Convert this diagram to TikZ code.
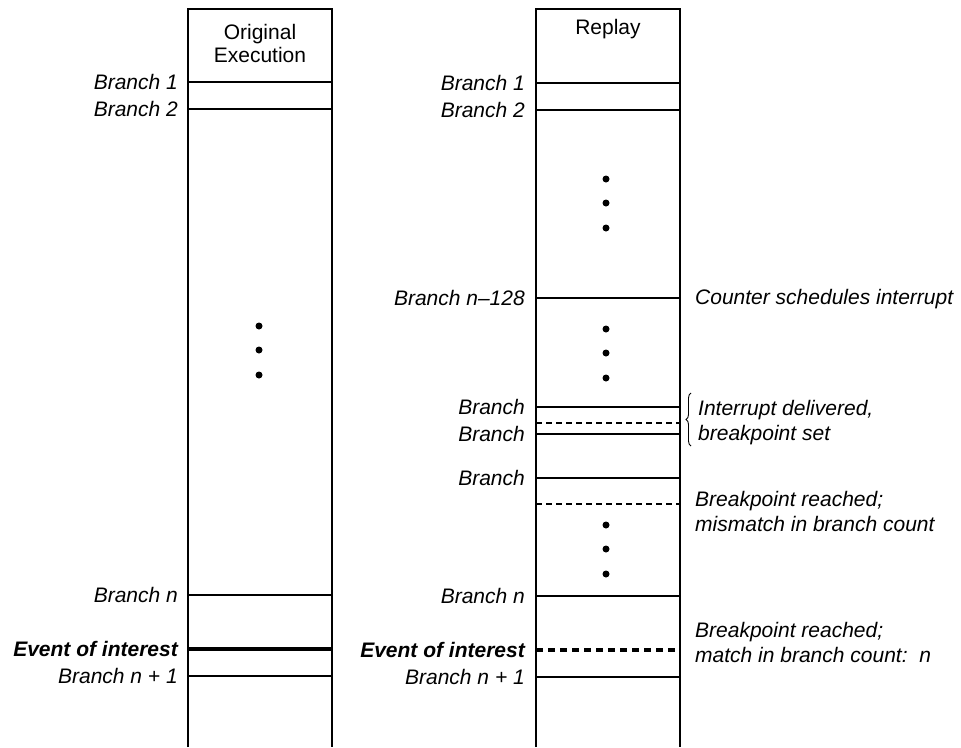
\documentclass[tikz,border=0pt]{standalone}
\usepackage{fontspec}
\setmainfont{Liberation Sans}
\usepackage{tikz}
\usetikzlibrary{decorations.pathreplacing}

\begin{document}
\begin{tikzpicture}[x=1pt,y=-1pt,
  every node/.style={font=\fontsize{21}{23}\selectfont},
  brlabel/.style={anchor=east,inner sep=0pt,text height=15pt,text depth=0pt,
    font=\fontsize{21}{23}\selectfont\itshape},
  note/.style={anchor=west,inner sep=0pt,align=left,
    font=\fontsize{21}{25}\selectfont\itshape},
  bar/.style={line width=1.6pt},
  thinmark/.style={line width=1.2pt,dash pattern=on 6pt off 4pt},
  boldmark/.style={line width=3.5pt,dash pattern=on 7pt off 5pt}]
\useasboundingbox (0,0) rectangle (961,747);
% columns
\draw[bar] (188,747) -- (188,9) -- (332,9) -- (332,747);
\draw[bar] (536,747) -- (536,9) -- (680,9) -- (680,747);
\node[align=center] (orighead) at (260,43) {Original\\Execution};
\node (replayhead) at (608,29) {Replay};
% original execution
\draw[bar] (188,82) -- (332,82);
\draw[bar] (188,109) -- (332,109);
\draw[bar] (188,595) -- (332,595);
\draw[line width=3.5pt] (188,649) -- (332,649);
\draw[bar] (188,676) -- (332,676);
\node[brlabel] (ob1) at (178,82) {Branch 1};
\node[brlabel] (ob2) at (178,109) {Branch 2};
\node[brlabel] (obn) at (178,595) {Branch n};
\node[brlabel,font=\fontsize{21}{23}\selectfont\bfseries\itshape] (oev) at (178,649) {Event of interest};
\node[brlabel] (obn1) at (178,676) {Branch n + 1};
\fill (259,326) circle (3.5pt);
\fill (259,350) circle (3.5pt);
\fill (259,375) circle (3.5pt);
% replay
\draw[bar] (536,83) -- (680,83);
\draw[bar] (536,110) -- (680,110);
\draw[bar] (536,298) -- (680,298);
\draw[bar] (536,407) -- (680,407);
\draw[thinmark] (536,423) -- (680,423);
\draw[bar] (536,434) -- (680,434);
\draw[bar] (536,478) -- (680,478);
\draw[thinmark] (536,504) -- (680,504);
\draw[bar] (536,596) -- (680,596);
\draw[boldmark] (536,650) -- (680,650);
\draw[bar] (536,677) -- (680,677);
\node[brlabel] (rb1) at (525,83) {Branch 1};
\node[brlabel] (rb2) at (525,110) {Branch 2};
\node[brlabel] (rb128) at (525,298) {Branch n--128};
\node[brlabel] (rba) at (525,407) {Branch};
\node[brlabel] (rbb) at (525,434) {Branch};
\node[brlabel] (rbc) at (525,478) {Branch};
\node[brlabel] (rbn) at (525,596) {Branch n};
\node[brlabel,font=\fontsize{21}{23}\selectfont\bfseries\itshape] (rev) at (525,650) {Event of interest};
\node[brlabel] (rbn1) at (525,677) {Branch n + 1};
\fill (606,179) circle (3.5pt);
\fill (606,203) circle (3.5pt);
\fill (606,228) circle (3.5pt);
\fill (606,329) circle (3.5pt);
\fill (606,353) circle (3.5pt);
\fill (606,378) circle (3.5pt);
\fill (606,525) circle (3.5pt);
\fill (606,549) circle (3.5pt);
\fill (606,574) circle (3.5pt);
% notes
\node[note] (counter) at (695,299) {Counter schedules interrupt};
\draw[line width=0.9pt,decorate,decoration={brace,amplitude=5pt}] (691,446) -- (691,393);
\node[note] (deliver) at (698,423) {Interrupt delivered,\\breakpoint set};
\node[note] (mismatch) at (695,511) {Breakpoint reached;\\mismatch in branch count};
\node[note] (match) at (695,642) {Breakpoint reached;\\match in branch count:\ \ n};
\end{tikzpicture}
\end{document}
